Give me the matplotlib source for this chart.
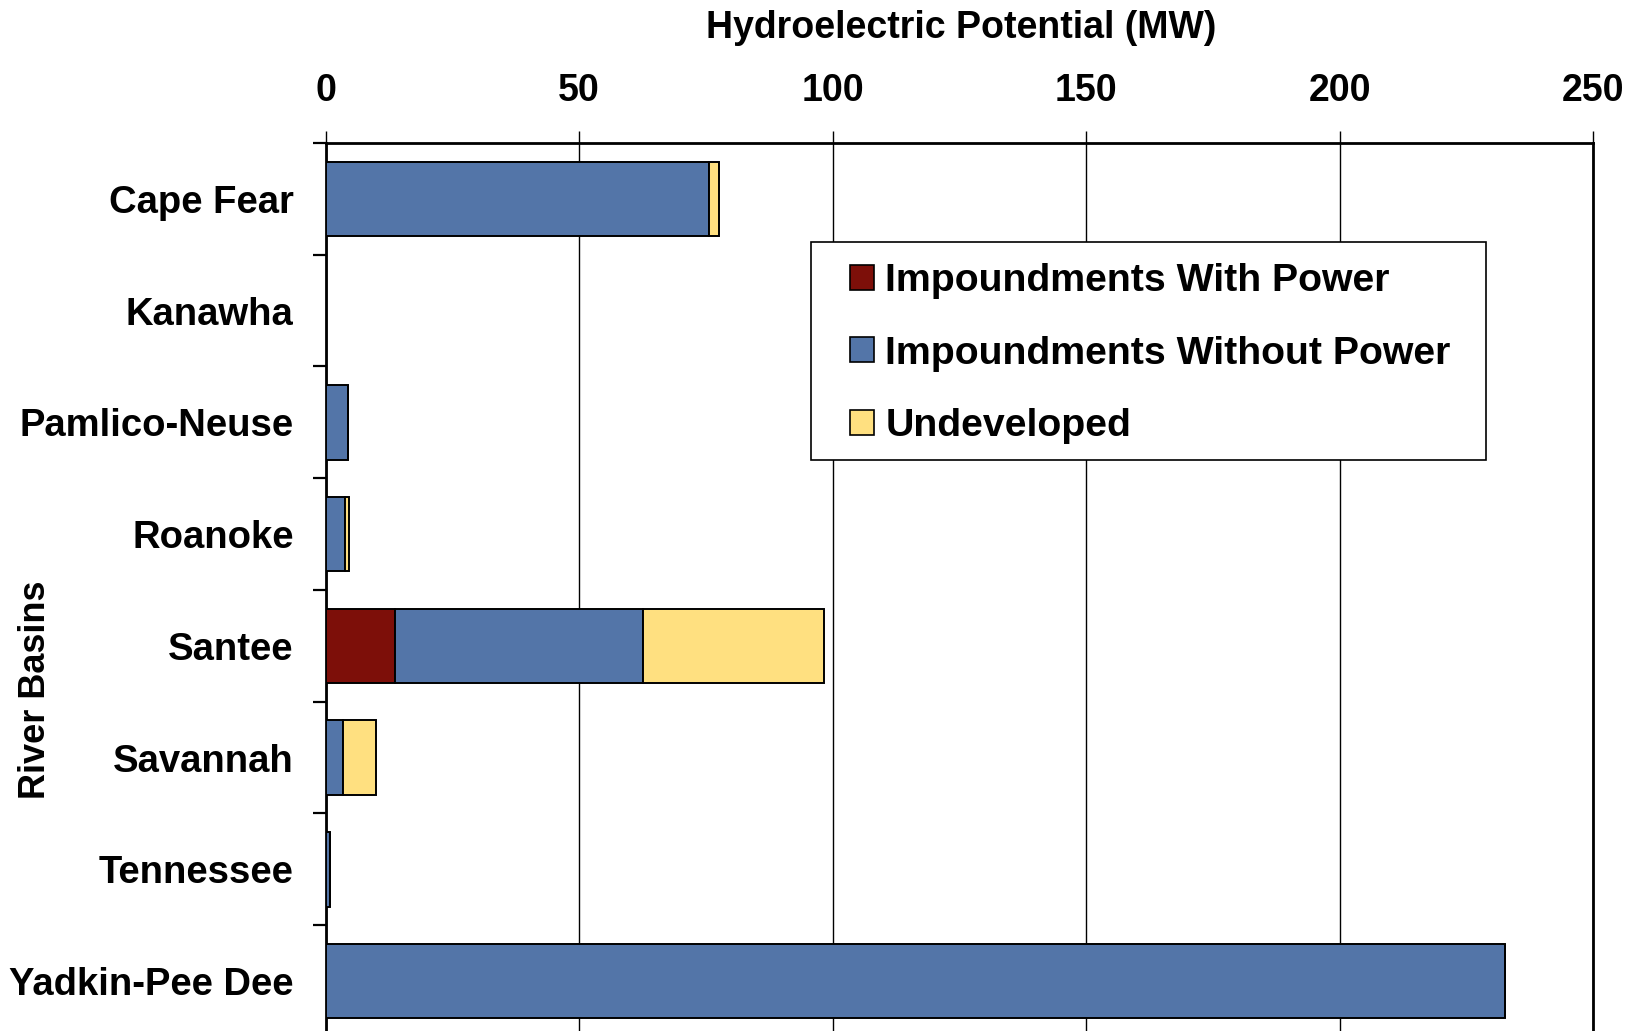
import matplotlib
matplotlib.use("Agg")
import matplotlib.pyplot as plt
from matplotlib.patches import Rectangle, Patch
import numpy as np

plt.rcParams['font.family'] = ['Liberation Sans', 'DejaVu Sans']
plt.rcParams['font.weight'] = 'bold'

# data (MW)
basins = ["Cape Fear", "Kanawha", "Pamlico-Neuse", "Roanoke",
          "Santee", "Savannah", "Tennessee", "Yadkin-Pee Dee"]
with_power = [0.0, 0.0, 0.0, 0.0, 13.6, 0.0, 0.0, 0.0]
without_power = [75.6, 0.0, 4.4, 3.9, 49.0, 3.5, 0.8, 232.6]
undeveloped = [2.0, 0.0, 0.0, 0.8, 35.7, 6.5, 0.0, 0.0]
series_names = ["Impoundments With Power", "Impoundments Without Power", "Undeveloped"]
colors = ["#7D0F09", "#5375A8", "#FFE080"]
x_ticks = [0, 50, 100, 150, 200, 250]

fig = plt.figure(figsize=(16.41, 10.31), dpi=100)
ax = fig.add_axes([0.1984, -0.0058, 0.7724, 0.8671])

y = np.arange(len(basins))
left = np.zeros(len(basins))
for vals, col in zip([with_power, without_power, undeveloped], colors):
    vals = np.array(vals)
    ax.barh(y, vals, left=left, height=0.665, color=col, edgecolor="black",
            linewidth=1.4, zorder=3)
    left = left + vals

ax.set_xlim(0, 250)
ax.set_ylim(len(basins) - 0.5, -0.5)

# x axis on top with gridlines
ax.xaxis.tick_top()
ax.set_xticks(x_ticks)
ax.set_xticklabels([str(t) for t in x_ticks], fontsize=27, fontweight="bold")
ax.tick_params(axis="x", direction="out", length=8.6, width=1.0, pad=16)
ax.grid(axis="x", color="black", linewidth=1.0, zorder=1)
ax.set_axisbelow(True)

# y axis: labels at centres, tick marks at boundaries
ax.set_yticks(y)
ax.set_yticklabels(basins, fontsize=27.5, fontweight="bold")
ax.tick_params(axis="y", which="major", length=0, pad=23)
ax.set_yticks(np.arange(-0.5, len(basins) - 1, 1.0), minor=True)
ax.tick_params(axis="y", which="minor", direction="out", length=9.4, width=1.6)

for s in ["top", "left", "right"]:
    ax.spines[s].set_linewidth(2.0)
ax.spines["bottom"].set_visible(False)

fig.text(961 / 1641, 1 - 28 / 1031, "Hydroelectric Potential (MW)",
         fontsize=27, fontweight="bold", ha="center", va="center")
fig.text(36 / 1641, 1 - 690 / 1031, "River Basins", fontsize=26,
         fontweight="bold", rotation=90, ha="center", va="center")

# legend box
box = Rectangle((811 / 1641, 1 - 460 / 1031), 675 / 1641, 218 / 1031,
                transform=fig.transFigure, facecolor="white", edgecolor="black",
                linewidth=1.2, zorder=4)
ax.add_patch(box)
box.set_clip_on(False)
handles = [Patch(facecolor=c, edgecolor="black", linewidth=1.2) for c in colors]
leg = fig.legend(handles, series_names, loc="upper left",
                 bbox_to_anchor=(850 / 1641, 1 - 263 / 1031),
                 frameon=False, prop={"weight": "bold", "size": 28.3},
                 handlelength=0.6, handleheight=0.6, handletextpad=0.3,
                 labelspacing=0.93, borderpad=0, borderaxespad=0)
leg.set_zorder(5)

fig.savefig("out.png", dpi=100)
